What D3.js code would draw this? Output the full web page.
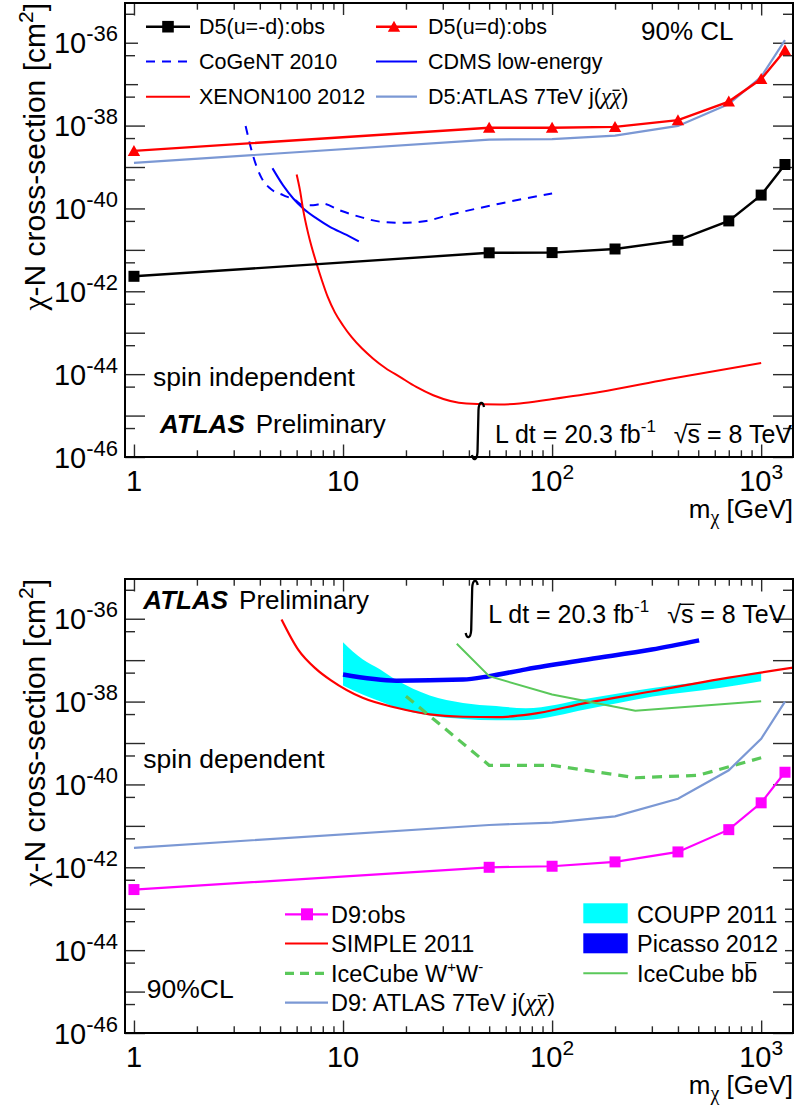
<!DOCTYPE html>
<html>
<head>
<meta charset="utf-8">
<script src="https://cdn.jsdelivr.net/npm/d3@7"></script>
<style>
  html, body { margin: 0; padding: 0; background: #fff; }
  svg { display: block; font-family: "Liberation Sans", Arial, Helvetica, sans-serif; }
  svg text { white-space: pre; }
</style>
</head>
<body>
<script>
// ---------- data ----------
// DM mass points of the collider (EFT) limits, GeV
const massPoints = [1, 50, 100, 200, 400, 700, 1000, 1300];

// spin independent (D5 operator) limits, cm^2
const d5MinusObs = [2.3e-42, 8.5e-42, 8.6e-42, 1.05e-41, 1.7e-41, 5.0e-41, 2.1e-40, 1.15e-39];
const d5PlusObs  = [2.45e-39, 8.9e-39, 8.9e-39, 9.3e-39, 1.35e-38, 3.8e-38, 1.33e-37, 6.6e-37];
const d5Atlas7   = [1.26e-39, 4.6e-39, 4.7e-39, 5.7e-39, 9.8e-39, 3.3e-38, 1.5e-37, 1.15e-36];

// spin dependent (D9 operator) limits, cm^2
const d9Obs    = [2.9e-43, 1.0e-42, 1.06e-42, 1.35e-42, 2.35e-42, 8.1e-42, 3.6e-41, 1.97e-40];
const d9Atlas7 = [2.95e-42, 1.05e-41, 1.2e-41, 1.7e-41, 4.5e-41, 2.2e-40, 1.26e-39, 1.0e-38];

// direct detection: spin independent
const cogentMass = [3.42, 3.72, 4.08, 4.46, 5.17, 5.88, 6.45, 7.2, 8.0, 9.6, 12.4, 15, 19, 25, 32, 56, 100];
const cogentXsec = [9.8e-39, 1.8e-39, 5.4e-40, 3.1e-40, 2.1e-40, 1.6e-40, 1.2e-40, 1.2e-40, 1.3e-40,
                    9.1e-41, 6.0e-41, 4.8e-41, 4.5e-41, 5.0e-41, 6.9e-41, 1.3e-40, 2.3e-40];
const cdmsMass = [4.6, 5.17, 5.78, 6.45, 7.47, 8.65, 10.4, 11.9];
const cdmsXsec = [9.3e-40, 3.6e-40, 1.74e-40, 1.0e-40, 5.75e-41, 3.6e-41, 2.3e-41, 1.6e-41];
const xenonMass = [6.0, 6.22, 6.45, 6.81, 7.07, 7.47, 7.92, 8.46, 9.14, 9.98, 11.0, 12.3, 13.9, 16.0,
                   18.7, 22.4, 27, 38.9, 56, 70, 97.6, 169, 352, 1000];
const xenonXsec = [6.6e-40, 2.8e-40, 9.1e-41, 2.5e-41, 1.2e-41, 4.7e-42, 1.85e-42, 7.2e-43, 3.1e-43,
                   1.52e-43, 7.8e-44, 4.2e-44, 2.4e-44, 1.39e-44, 8.6e-45, 4.9e-45, 3.1e-45, 1.95e-45,
                   1.86e-45, 1.95e-45, 2.45e-45, 3.7e-45, 7.4e-45, 1.86e-44];

// direct / indirect detection: spin dependent
const simpleMass = [5.08, 6.1, 7.47, 8.8, 12.4, 18, 26, 37.5, 54, 78, 146, 303, 635, 1420];
const simpleXsec = [9.6e-37, 1.8e-37, 6.0e-38, 3.2e-38, 1.23e-38, 7.1e-39, 4.9e-39, 4.3e-39, 4.2e-39,
                    4.9e-39, 9.3e-39, 1.78e-38, 3.5e-38, 6.6e-38];
const couppMass  = [10, 12.4, 15, 18, 26, 37.5, 54, 75, 146, 303, 632, 1000];
const couppUpper = [2.72e-37, 1.05e-37, 6.0e-38, 3.3e-38, 1.41e-38, 9.3e-39, 7.8e-39, 6.9e-39,
                    1.17e-38, 2.14e-38, 3.4e-38, 5.1e-38];
const couppLower = [2.45e-38, 1.48e-38, 1.02e-38, 7.1e-39, 4.6e-39, 3.8e-39, 3.55e-39, 3.6e-39,
                    6.5e-39, 1.32e-38, 2.14e-38, 3.1e-38];
const picassoMass = [10, 18, 37.5, 50, 75, 150, 300, 505];
const picassoXsec = [4.5e-38, 3.2e-38, 3.4e-38, 4.1e-38, 6.0e-38, 1.05e-37, 1.8e-37, 3.0e-37];
const icbbMass = [35, 50, 100, 250, 1000];
const icbbXsec = [2.5e-37, 4.1e-38, 1.48e-38, 6.0e-39, 1.02e-38];
const icwwMass = [20, 50, 100, 250, 500, 1000];
const icwwXsec = [1.35e-38, 2.9e-40, 2.9e-40, 1.45e-40, 1.66e-40, 4.4e-40];

// axis ticks
const xMajorTicks = [1, 10, 100, 1000];
const xMajorLabels = [["1", ""], ["10", ""], ["10", "2"], ["10", "3"]];
const yDecadeExps = [-46, -45, -44, -43, -42, -41, -40, -39, -38, -37, -36];
const yLabelExps = [-46, -44, -42, -40, -38, -36];

// ---------- layout ----------
const W = 798, H = 1106;
const L = 125, R = 793, PH = 454;
const panelTops = [3, 579];
const xDomain = [0.906, 1420];
const yDomain = [1e-46, 9.1e-36];
const GREEK = '"Liberation Serif", "Times New Roman", serif';

const C = {
  red: "#ff0000", black: "#000000", blue: "#0000ff", atlas7: "#7b98d4",
  cyan: "#00ffff", green: "#5ac85a", magenta: "#ff00ff", tick: "#2a2a2a"
};

const svg = d3.select("body").append("svg").attr("width", W).attr("height", H);
const x = d3.scaleLog().domain(xDomain).range([L, R]);

const xMinorTicks = [];
[1, 10, 100].forEach(d => { for (let k = 2; k <= 9; k++) xMinorTicks.push(k * d); });
const yDecades = yDecadeExps.map(e => Math.pow(10, e));
const yHalves = yDecadeExps.map(e => 5 * Math.pow(10, e));

// text built from pieces (superscripts, subscripts, overlines)
function rich(parent, parts, opt) {
  const g = parent.append("g");
  let cx = 0;
  parts.forEach(p => {
    cx += p.gap || 0;
    const t = g.append("text")
      .attr("x", cx).attr("y", p.dy || 0)
      .attr("font-size", p.size)
      .attr("font-weight", p.weight || null)
      .attr("font-style", p.style || null)
      .attr("font-family", p.family || null)
      .attr("fill", "#000")
      .text(p.t);
    const w = t.node().getComputedTextLength();
    if (p.over != null) {
      const pad = p.overPad != null ? p.overPad : 1;
      g.append("line")
        .attr("x1", cx + pad).attr("x2", cx + w - pad)
        .attr("y1", (p.dy || 0) - p.over).attr("y2", (p.dy || 0) - p.over)
        .attr("stroke", "#000").attr("stroke-width", 1.4);
    }
    cx += w;
  });
  const shift = opt.anchor === "end" ? -cx : opt.anchor === "middle" ? -cx / 2 : 0;
  const rot = opt.rotate ? ` rotate(${opt.rotate})` : "";
  g.attr("transform", `translate(${opt.x},${opt.y})${rot} translate(${shift},0)`);
  return g;
}

function squarePath(cx, cy, s) {
  return `M${cx - s},${cy - s}h${2 * s}v${2 * s}h${-2 * s}Z`;
}
function trianglePath(cx, cy) {
  return `M${cx},${cy - 6}L${cx + 6.2},${cy + 5}L${cx - 6.2},${cy + 5}Z`;
}

function integralSign(parent, cx, y0, y1) {
  parent.append("path")
    .attr("d", `M${cx + 6},${y0 + 5} C${cx + 5},${y0 - 1} ${cx + 1},${y0 - 1} ${cx + 0.5},${y0 + 8}
                L${cx - 0.5},${y1 - 8} C${cx - 1},${y1 + 1} ${cx - 5},${y1 + 1} ${cx - 6},${y1 - 5}`)
    .attr("fill", "none").attr("stroke", "#000").attr("stroke-width", 2.3);
}

function lumiLabel(parent, ix, top, bottom, tx, base) {
  integralSign(parent, ix, top, bottom);
  rich(parent, [
    { t: "L dt = 20.3 fb", size: 25 },
    { t: "-1", size: 17, dy: -11 },
    { t: "\u221A", size: 25, gap: 18 },
    { t: "s", size: 25, over: 19, overPad: -1 },
    { t: " = 8 TeV", size: 25 }
  ], { x: tx, y: base });
}

function atlasLabel(parent, xx, base) {
  rich(parent, [
    { t: "ATLAS", size: 26, weight: "bold", style: "italic" },
    { t: "Preliminary", size: 26, gap: 11 }
  ], { x: xx, y: base });
}

function drawAxes(g, y, top) {
  const bottom = top + PH;
  const clean = s => {
    s.select(".domain").remove();
    s.selectAll("line").attr("stroke", C.tick).attr("stroke-width", 1.4);
  };
  // y ticks on both sides, pointing inward
  g.append("g").attr("transform", `translate(${L},0)`)
    .call(d3.axisLeft(y).tickValues(yDecades).tickSize(-20).tickFormat("")).call(clean);
  g.append("g").attr("transform", `translate(${L},0)`)
    .call(d3.axisLeft(y).tickValues(yHalves).tickSize(-10).tickFormat("")).call(clean);
  g.append("g").attr("transform", `translate(${R},0)`)
    .call(d3.axisRight(y).tickValues(yDecades).tickSize(-20).tickFormat("")).call(clean);
  g.append("g").attr("transform", `translate(${R},0)`)
    .call(d3.axisRight(y).tickValues(yHalves).tickSize(-10).tickFormat("")).call(clean);
  // x ticks on bottom and top
  g.append("g").attr("transform", `translate(0,${bottom})`)
    .call(d3.axisBottom(x).tickValues(xMajorTicks).tickSize(-12.5).tickFormat("")).call(clean);
  g.append("g").attr("transform", `translate(0,${bottom})`)
    .call(d3.axisBottom(x).tickValues(xMinorTicks).tickSize(-6.7).tickFormat("")).call(clean);
  g.append("g").attr("transform", `translate(0,${top})`)
    .call(d3.axisTop(x).tickValues(xMajorTicks).tickSize(-12.5).tickFormat("")).call(clean);
  g.append("g").attr("transform", `translate(0,${top})`)
    .call(d3.axisTop(x).tickValues(xMinorTicks).tickSize(-6.7).tickFormat("")).call(clean);
}

function drawLabels(g, y, top) {
  const bottom = top + PH;
  yLabelExps.forEach(e => {
    rich(g, [
      { t: "10", size: 29 },
      { t: String(e), size: 22, dy: -12 }
    ], { x: 118, y: y(Math.pow(10, e)) + 10.5, anchor: "end" });
  });
  xMajorTicks.forEach((v, i) => {
    const parts = [{ t: xMajorLabels[i][0], size: 29 }];
    if (xMajorLabels[i][1]) parts.push({ t: xMajorLabels[i][1], size: 21, dy: -12 });
    rich(g, parts, { x: x(v), y: bottom + 33.5, anchor: "middle" });
  });
  // axis titles
  rich(g, [
    { t: "m", size: 26 },
    { t: "\u03C7", size: 20, dy: 6, family: GREEK },
    { t: " [GeV]", size: 26 }
  ], { x: R, y: bottom + 60.5, anchor: "end" });
  rich(g, [
    { t: "\u03C7", size: 32, family: GREEK },
    { t: "-N cross-section [cm", size: 30 },
    { t: "2", size: 21, dy: -12 },
    { t: "]", size: 30 }
  ], { x: 45, y: top, anchor: "end", rotate: -90 });
}

function frame(g, top) {
  g.append("rect").attr("x", L).attr("y", top).attr("width", R - L).attr("height", PH)
    .attr("fill", "none").attr("stroke", "#000").attr("stroke-width", 2);
}

function makeLine(y, curve) {
  return d3.line().x(d => x(d[0])).y(d => y(d[1])).curve(curve || d3.curveLinear);
}
const zip = (a, b) => a.map((v, i) => [v, b[i]]);

// ================= top panel: spin independent =================
(function () {
  const top = panelTops[0];
  const y = d3.scaleLog().domain(yDomain).range([top + PH, top]);
  const g = svg.append("g");
  svg.append("clipPath").attr("id", "clipTop").append("rect")
    .attr("x", L).attr("y", top).attr("width", R - L).attr("height", PH);

  drawAxes(g, y, top);

  const plot = g.append("g").attr("clip-path", "url(#clipTop)");
  const lin = makeLine(y);
  const smooth = makeLine(y, d3.curveMonotoneX);

  plot.append("path").attr("d", lin(zip(massPoints, d5Atlas7)))
    .attr("fill", "none").attr("stroke", C.atlas7).attr("stroke-width", 2.2);
  plot.append("path").attr("d", smooth(zip(cogentMass, cogentXsec)))
    .attr("fill", "none").attr("stroke", C.blue).attr("stroke-width", 2)
    .attr("stroke-dasharray", "9,7");
  plot.append("path").attr("d", smooth(zip(cdmsMass, cdmsXsec)))
    .attr("fill", "none").attr("stroke", C.blue).attr("stroke-width", 2);
  plot.append("path").attr("d", smooth(zip(xenonMass, xenonXsec)))
    .attr("fill", "none").attr("stroke", C.red).attr("stroke-width", 2);
  plot.append("path").attr("d", lin(zip(massPoints, d5PlusObs)))
    .attr("fill", "none").attr("stroke", C.red).attr("stroke-width", 2.4);
  plot.selectAll(".tri").data(zip(massPoints, d5PlusObs)).enter().append("path")
    .attr("d", d => trianglePath(x(d[0]), y(d[1]))).attr("fill", C.red);
  plot.append("path").attr("d", lin(zip(massPoints, d5MinusObs)))
    .attr("fill", "none").attr("stroke", C.black).attr("stroke-width", 2.4);
  plot.selectAll(".sq").data(zip(massPoints, d5MinusObs)).enter().append("path")
    .attr("d", d => squarePath(x(d[0]), y(d[1]), 5.5)).attr("fill", C.black);

  // legend
  g.append("rect").attr("x", 138).attr("y", 15).attr("width", 480).attr("height", 103).attr("fill", "#fff");
  const rows = [26.7, 61.5, 96.7];
  const lg = g.append("g");
  const entry = (x1, x2, yy, color, w, dash) =>
    lg.append("line").attr("x1", x1).attr("x2", x2).attr("y1", yy).attr("y2", yy)
      .attr("stroke", color).attr("stroke-width", w).attr("stroke-dasharray", dash || null);
  entry(146, 190, rows[0], C.black, 2.4);
  lg.append("path").attr("d", squarePath(168, rows[0], 5.8)).attr("fill", C.black);
  entry(146, 190, rows[1], C.blue, 2, "9,7");
  entry(146, 190, rows[2], C.red, 2);
  entry(376, 417, rows[0], C.red, 2.4);
  lg.append("path").attr("d", trianglePath(394, rows[0])).attr("fill", C.red);
  entry(376, 417, rows[1], C.blue, 2);
  entry(376, 417, rows[2], C.atlas7, 2.2);
  const lt = (t, xx, yy) => rich(lg, [{ t, size: 21.5 }], { x: xx, y: yy + 7.6 });
  lt("D5(u=-d):obs", 199, rows[0]);
  lt("CoGeNT 2010", 199, rows[1]);
  lt("XENON100 2012", 199, rows[2]);
  lt("D5(u=d):obs", 428, rows[0]);
  lt("CDMS low-energy", 428, rows[1]);
  rich(lg, [
    { t: "D5:ATLAS 7TeV j(", size: 21.5 },
    { t: "\u03C7", size: 23, style: "italic", family: GREEK },
    { t: "\u03C7", size: 23, style: "italic", family: GREEK, over: 14, overPad: 1.5 },
    { t: ")", size: 21.5 }
  ], { x: 428, y: rows[2] + 7.6 });

  rich(g, [{ t: "90% CL", size: 26 }], { x: 641, y: 40 });
  rich(g, [{ t: "spin independent", size: 26.5 }], { x: 153, y: 385.7 });
  atlasLabel(g, 160, 432.7);
  lumiLabel(g, 478, 402, 460, 495, 443.3);

  drawLabels(g, y, top);
  frame(g, top);
})();

// ================= bottom panel: spin dependent =================
(function () {
  const top = panelTops[1];
  const y = d3.scaleLog().domain(yDomain).range([top + PH, top]);
  const g = svg.append("g");
  svg.append("clipPath").attr("id", "clipBot").append("rect")
    .attr("x", L).attr("y", top).attr("width", R - L).attr("height", PH);

  drawAxes(g, y, top);

  const plot = g.append("g").attr("clip-path", "url(#clipBot)");
  const lin = makeLine(y);
  const smooth = makeLine(y, d3.curveMonotoneX);

  const band = d3.area().x(d => x(d[0])).y0(d => y(d[1])).y1(d => y(d[2])).curve(d3.curveMonotoneX);
  plot.append("path")
    .attr("d", band(couppMass.map((m, i) => [m, couppLower[i], couppUpper[i]])))
    .attr("fill", C.cyan);
  plot.append("path").attr("d", smooth(zip(picassoMass, picassoXsec)))
    .attr("fill", "none").attr("stroke", C.blue).attr("stroke-width", 4.5);
  plot.append("path").attr("d", smooth(zip(simpleMass, simpleXsec)))
    .attr("fill", "none").attr("stroke", C.red).attr("stroke-width", 2.2);
  plot.append("path").attr("d", lin(zip(icbbMass, icbbXsec)))
    .attr("fill", "none").attr("stroke", C.green).attr("stroke-width", 2);
  plot.append("path").attr("d", lin(zip(icwwMass, icwwXsec)))
    .attr("fill", "none").attr("stroke", C.green).attr("stroke-width", 3.2)
    .attr("stroke-dasharray", "10,7");
  plot.append("path").attr("d", lin(zip(massPoints, d9Atlas7)))
    .attr("fill", "none").attr("stroke", C.atlas7).attr("stroke-width", 2.2);
  plot.append("path").attr("d", lin(zip(massPoints, d9Obs)))
    .attr("fill", "none").attr("stroke", C.magenta).attr("stroke-width", 2.2);
  plot.selectAll(".sq").data(zip(massPoints, d9Obs)).enter().append("path")
    .attr("d", d => squarePath(x(d[0]), y(d[1]), 5.5)).attr("fill", C.magenta);

  // legends
  g.append("rect").attr("x", 575).attr("y", 890).attr("width", 210).attr("height", 95).attr("fill", "#fff");
  const lg = g.append("g");
  const rows = [914.3, 943.5, 973.3, 1002.7];
  const line = (yy, color, w, dash) =>
    lg.append("line").attr("x1", 285).attr("x2", 328).attr("y1", yy).attr("y2", yy)
      .attr("stroke", color).attr("stroke-width", w).attr("stroke-dasharray", dash || null);
  line(rows[0], C.magenta, 2.2);
  lg.append("path").attr("d", squarePath(307, rows[0], 6)).attr("fill", C.magenta);
  line(rows[1], C.red, 2.2);
  line(rows[2], C.green, 3.2, "9,6");
  line(rows[3], C.atlas7, 2.2);
  const fs = 23.5, off = 8.4;
  rich(lg, [{ t: "D9:obs", size: fs }], { x: 331, y: rows[0] + off });
  rich(lg, [{ t: "SIMPLE 2011", size: fs }], { x: 331, y: rows[1] + off });
  rich(lg, [
    { t: "IceCube W", size: fs },
    { t: "+", size: 15, dy: -10 },
    { t: "W", size: fs },
    { t: "-", size: 15, dy: -10 }
  ], { x: 331, y: rows[2] + off });
  rich(lg, [
    { t: "D9: ATLAS 7TeV j(", size: fs },
    { t: "\u03C7", size: 25, style: "italic", family: GREEK },
    { t: "\u03C7", size: 25, style: "italic", family: GREEK, over: 15.5, overPad: 1.5 },
    { t: ")", size: fs }
  ], { x: 331, y: rows[3] + off });

  lg.append("rect").attr("x", 583.3).attr("y", 903.3).attr("width", 44.4).attr("height", 20).attr("fill", C.cyan);
  lg.append("rect").attr("x", 583.3).attr("y", 933.3).attr("width", 44.4).attr("height", 20).attr("fill", C.blue);
  lg.append("line").attr("x1", 583.3).attr("x2", 627.7).attr("y1", 973.3).attr("y2", 973.3)
    .attr("stroke", C.green).attr("stroke-width", 2);
  rich(lg, [{ t: "COUPP 2011", size: fs }], { x: 637, y: rows[0] + off });
  rich(lg, [{ t: "Picasso 2012", size: fs }], { x: 637, y: rows[1] + off });
  rich(lg, [
    { t: "IceCube b", size: fs },
    { t: "b", size: fs, over: 19, overPad: 1 }
  ], { x: 637, y: rows[2] + off });

  atlasLabel(g, 143.3, 609.3);
  lumiLabel(g, 471.7, 580, 638, 488.3, 623.3);
  rich(g, [{ t: "spin dependent", size: 26.5 }], { x: 143.3, y: 768.3 });
  rich(g, [{ t: "90%CL", size: 26.5 }], { x: 146.7, y: 998.3 });

  drawLabels(g, y, top);
  frame(g, top);
})();
</script>
</body>
</html>
